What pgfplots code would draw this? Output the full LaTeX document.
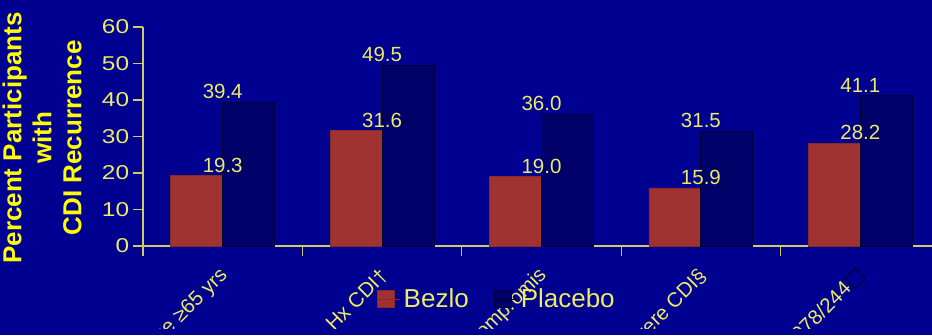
\documentclass[border=0pt]{standalone}
\usepackage{fontspec}
\setmainfont{Liberation Sans}
\newfontfamily\dejavu{DejaVu Sans}
\usepackage{pgfplots}
\pgfplotsset{compat=1.18}
\definecolor{bg}{RGB}{0,0,145}
\definecolor{bezlo}{RGB}{160,50,50}
\definecolor{placebo}{RGB}{0,0,105}
\definecolor{placeboedge}{RGB}{0,0,55}
\definecolor{axiscol}{RGB}{205,205,95}
\definecolor{txt}{RGB}{235,235,100}
\definecolor{ylab}{RGB}{255,255,0}
\begin{document}
\begin{tikzpicture}
\fill[bg] (0,0) rectangle (932pt,335pt);
\begin{scope}
\clip (0,7pt) rectangle (932pt,335pt);
\node[rotate=90, align=center, text=ylab, font=\fontsize{26}{30}\selectfont\bfseries] at (42pt,197pt) {Percent Participants\\with\\CDI Recurrence};
\begin{axis}[
  at={(143pt,89pt)}, anchor=south west,
  scale only axis, width=797pt, height=219pt,
  xmin=-0.5, xmax=4.5, ymin=0, ymax=60,
  axis x line*=bottom, axis y line*=left,
  axis line style={-, draw=axiscol, line width=1.3pt},
  tick style={draw=axiscol, line width=1.3pt},
  tick align=outside,
  major tick length=10pt,
  minor tick length=10pt,
  ytick={0,10,...,60},
  xtick={0,1,2,3,4},
  major x tick style={draw=none},
  minor xtick={-0.5,0.5,1.5,2.5,3.5,4.5},
  xticklabels={Age ≥65 yrs, Hx CDI†, Immunocompromis, Severe CDI§, Ribotype 027/078/244{\dejavu\textcolor{placeboedge}{□}}},
  xticklabel style={rotate=45, anchor=east, text=txt, font=\fontsize{20.5}{24}\selectfont, inner sep=0pt, xshift=-10pt, yshift=-13pt},
  yticklabel style={text=txt, font=\fontsize{20}{24}\selectfont, xscale=1.22, inner sep=1pt, xshift=-2pt},
  /pgf/number format/assume math mode=true,
  nodes near coords={\pgfmathprintnumber[fixed,fixed zerofill,precision=1]{\pgfplotspointmeta}},
  every node near coord/.append style={text=txt, font=\fontsize{20.5}{24}\selectfont, inner sep=3pt},
  legend columns=2,
  legend style={at={(0.2935,-0.242)}, anchor=west, draw=none, fill=none, text=txt,
    font=\fontsize{26}{30}\selectfont, column sep=0pt, inner sep=0pt,
    /tikz/every even column/.append style={column sep=22pt},
    nodes={inner sep=3pt}},
  legend image code/.code={\draw[#1] (0pt,-8.5pt) rectangle (17pt,8.5pt); \path (0pt,0pt) -- (23pt,0pt);},
]
\addplot[ybar, bar width=52pt, bar shift=-26pt, fill=bezlo, draw=bezlo!85!black, line width=0.6pt]
  coordinates {(0,19.3) (1,31.6) (2,19.0) (3,15.9) (4,28.2)};
\addlegendentry{Bezlo}
\addplot[ybar, bar width=52pt, bar shift=26pt, fill=placebo, draw=placeboedge, line width=1pt]
  coordinates {(0,39.4) (1,49.5) (2,36.0) (3,31.5) (4,41.1)};
\addlegendentry{Placebo}
\end{axis}
\end{scope}
\pgfresetboundingbox
\useasboundingbox (0,0) rectangle (932pt,335pt);
\end{tikzpicture}
\end{document}
